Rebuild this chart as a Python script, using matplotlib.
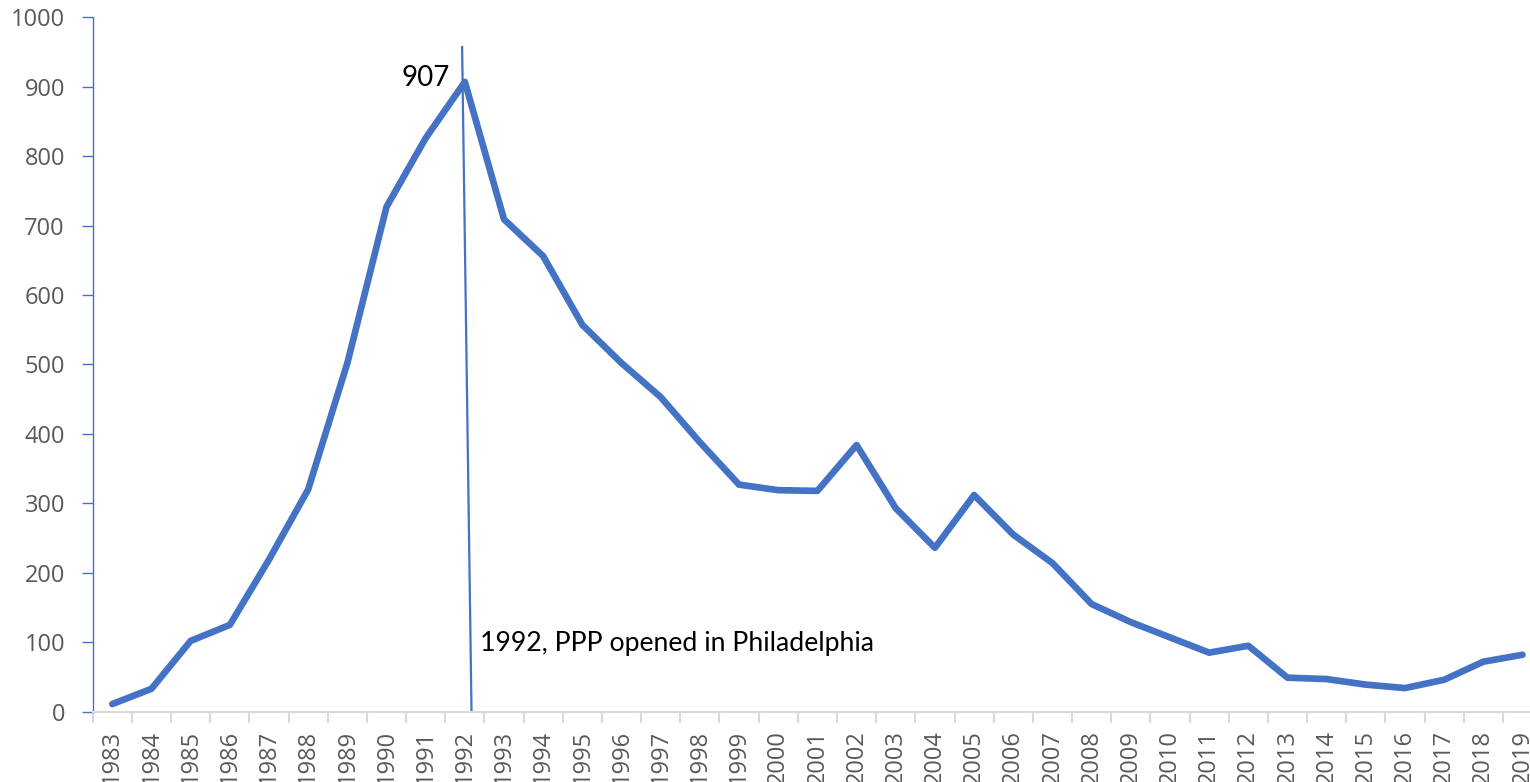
import matplotlib.pyplot as plt
import numpy as np

# Dados
anos = list(range(1983, 2020))
valores = [11, 33, 102, 125, 219, 320, 502, 727, 826, 907,
           709, 656, 557, 502, 453, 388, 327, 319, 318, 384,
           293, 236, 312, 255, 214, 155, 129, 107, 85, 95,
           49, 47, 39, 34, 46, 72, 82]

pico_rotulo = "907"
nota_texto = "1992, PPP opened in Philadelphia"
linha_x = [8.93, 9.17]
linha_y = [957, 0]

azul = "#4472C4"
cinza = "#595959"

fig = plt.figure(figsize=(15.3, 7.82), dpi=100)
ax = fig.add_axes([0.0606, 0.0899, 0.9473, 0.888])

x = np.arange(len(anos))
ax.plot(x, valores, color=azul, lw=4.8, solid_capstyle="round", solid_joinstyle="round")
ax.plot(linha_x, linha_y, color=azul, lw=1.6)

ax.text(8.63, 912, pico_rotulo, ha="right", va="center", fontsize=20, family="Lato", color="black")
ax.text(9.39, 98, nota_texto, ha="left", va="center", fontsize=19.2, family="Lato", color="black")

ax.set_xlim(-0.5, len(anos) - 0.5)
ax.set_ylim(0, 1000)

ax.set_xticks(x)
ax.set_xticklabels([str(a) for a in anos], rotation=90, va="top")
ax.set_xticks(np.arange(len(anos) + 1) - 0.5, minor=True)
ax.tick_params(axis="x", which="major", length=0, pad=13, labelsize=17, labelcolor=cinza)
ax.tick_params(axis="x", which="minor", length=8, width=1.5, color="#D9D9D9")

ax.set_yticks(range(0, 1001, 100))
ax.tick_params(axis="y", length=8, width=1, color=azul, pad=12, labelsize=17, labelcolor=cinza)

for lab in ax.get_xticklabels() + ax.get_yticklabels():
    lab.set_family("Open Sans")

for s in ["top", "right"]:
    ax.spines[s].set_visible(False)
ax.spines["left"].set_color(azul)
ax.spines["left"].set_linewidth(1)
ax.spines["bottom"].set_color("#D9D9D9")
ax.spines["bottom"].set_linewidth(1.5)

plt.savefig("out.png", dpi=100)
